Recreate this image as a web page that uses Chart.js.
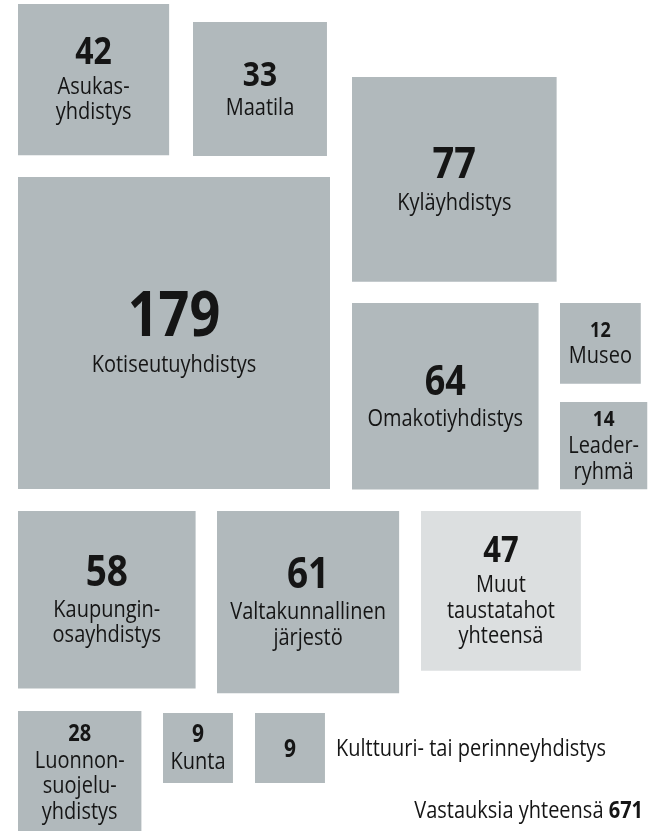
<!DOCTYPE html>
<html>
<head>
<meta charset="utf-8">
<script src="https://cdn.jsdelivr.net/npm/chart.js@4/dist/chart.umd.min.js"></script>
<style>
  html, body { margin: 0; padding: 0; background: #fff; }
  #c { display: block; }
</style>
</head>
<body>
<canvas id="c" width="654" height="831"></canvas>
<script>
// data
const categories = ['Asukas-\nyhdistys', 'Maatila', 'Kyläyhdistys', 'Kotiseutuyhdistys', 'Omakotiyhdistys',
  'Museo', 'Leader-\nryhmä', 'Kaupungin-\nosayhdistys', 'Valtakunnallinen\njärjestö', 'Muut\ntaustatahot\nyhteensä',
  'Luonnon-\nsuojelu-\nyhdistys', 'Kunta', 'Kulttuuri- tai perinneyhdistys'];
const values = [42, 33, 77, 179, 64, 12, 14, 58, 61, 47, 28, 9, 9];
const totalAnswers = 671;
const totalLabel = 'Vastauksia yhteensä ';

// layout (top-left corner of each square, number font size)
const boxLeft = [18, 193, 352, 18, 352, 560, 560, 18, 217, 421, 18, 163, 255];
const boxTop  = [4, 22, 77, 177, 303, 303, 402, 511, 511, 511, 711, 713, 713];
const numFont = [32, 30, 38, 54, 36, 18, 19, 37, 37, 31, 20, 21, 21];
const outsideLabel = 12;  // label written right of the square
const unit = 312 / Math.sqrt(179); // px side per sqrt(value)

const FONT = '"Open Sans", sans-serif';
const STRETCH = 1.15; // taller, narrower look of the original type
const grey = '#b1b9bc', light = '#dcdfe0';

const side = v => unit * Math.sqrt(v);
const points = values.map((v, i) => ({ x: boxLeft[i] + side(v) / 2, y: boxTop[i] + side(v) / 2 }));

function tallText(c, txt, x, y) {
  c.save();
  c.translate(x, y);
  c.scale(1, STRETCH);
  c.fillText(txt, 0, 0);
  c.restore();
}

const labelPlugin = {
  id: 'squareLabels',
  afterDatasetsDraw(chart) {
    const c = chart.ctx;
    const meta = chart.getDatasetMeta(0);
    c.save();
    c.fillStyle = '#151515';
    c.textAlign = 'center';
    c.textBaseline = 'alphabetic';
    const lblSize = 20, lineH = 25.5;
    const lblCap = lblSize * 0.714 * STRETCH;
    meta.data.forEach((pt, i) => {
      const nf = numFont[i];
      const cap = nf * 0.714 * STRETCH;
      if (i === outsideLabel) {
        c.font = `bold ${nf}px ${FONT}`;
        tallText(c, String(values[i]), pt.x, pt.y + cap / 2);
        c.textAlign = 'left';
        c.font = `${lblSize}px ${FONT}`;
        tallText(c, categories[i], 336, pt.y + lblCap / 2);
        c.textAlign = 'center';
        return;
      }
      const lines = categories[i].split('\n');
      const gap = 0.25 * nf + 22;
      const h = cap + gap + (lines.length - 1) * lineH + 2;
      const base = pt.y - h / 2 + cap;
      c.font = `bold ${nf}px ${FONT}`;
      tallText(c, String(values[i]), pt.x, base);
      c.font = `${lblSize}px ${FONT}`;
      lines.forEach((ln, k) => tallText(c, ln, pt.x, base + gap + k * lineH));
    });
    // total
    c.textAlign = 'right';
    c.font = `bold ${lblSize}px ${FONT}`;
    const numW = c.measureText(String(totalAnswers)).width;
    tallText(c, String(totalAnswers), 643, 818);
    c.font = `${lblSize}px ${FONT}`;
    tallText(c, totalLabel, 643 - numW, 818);
    c.restore();
  }
};

new Chart(document.getElementById('c'), {
  type: 'scatter',
  data: {
    datasets: [{
      data: points,
      pointStyle: 'rect',
      pointRadius: ctx => {
        const xs = ctx.chart.scales.x;
        const s = xs.getPixelForValue(side(values[ctx.dataIndex])) - xs.getPixelForValue(0);
        return s / Math.SQRT2;
      },
      pointHoverRadius: ctx => side(values[ctx.dataIndex]) / Math.SQRT2,
      backgroundColor: values.map((v, i) => i === 9 ? light : grey),
      borderWidth: 0,
      clip: false
    }]
  },
  options: {
    responsive: false,
    animation: false,
    events: [],
    devicePixelRatio: 1,
    layout: { padding: 0 },
    plugins: { legend: { display: false }, tooltip: { enabled: false } },
    scales: {
      x: { type: 'linear', min: 0, max: 654, display: false },
      y: { type: 'linear', min: 0, max: 831, reverse: true, display: false }
    }
  },
  plugins: [labelPlugin]
});
</script>
</body>
</html>
